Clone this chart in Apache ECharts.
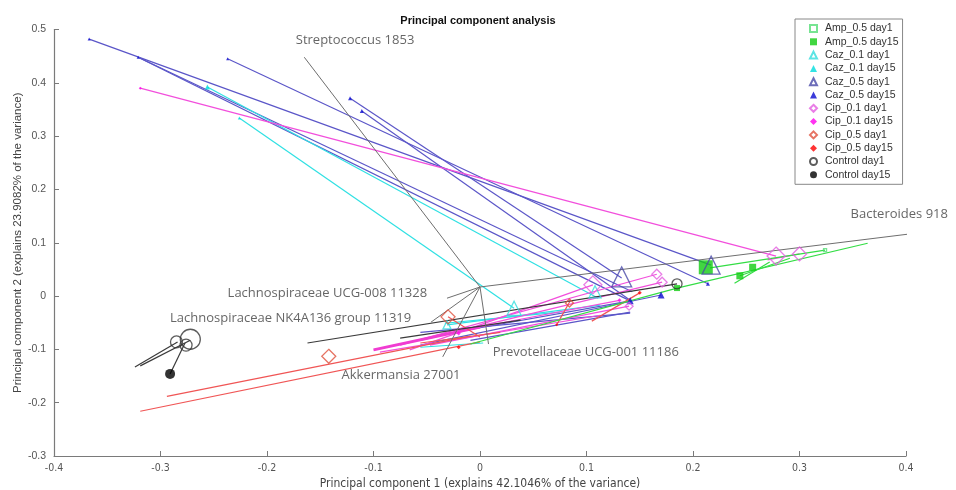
<!DOCTYPE html>
<html><head><meta charset="utf-8">
<script src="https://cdn.jsdelivr.net/npm/echarts@6/dist/echarts.min.js"></script>
<style>html,body{margin:0;padding:0;background:#fff}#c{width:956px;height:490px}</style>
</head><body><div id="c"></div>
<script>
// ---- axis ticks ----
const xTicks = [-0.4,-0.3,-0.2,-0.1,0,0.1,0.2,0.3,0.4];
const yTicks = [-0.3,-0.2,-0.1,0,0.1,0.2,0.3,0.4,0.5];

// ---- loadings (biplot vectors) ----
const hub = [0.0, 0.017];
const loadingNames = ['Streptococcus 1853','Bacteroides 918','Lachnospiraceae UCG-008 11328','Lachnospiraceae NK4A136 group 11319','Akkermansia 27001','Prevotellaceae UCG-001 11186'];
const loadingEnds = [[-0.165,0.448],[0.442,0.126],[-0.031,-0.004],[-0.046,-0.049],[-0.035,-0.114],[0.008,-0.090]];
const labelAnchors = [[-0.173,0.480],[0.348,0.154],[-0.237,0.006],[-0.291,-0.041],[-0.130,-0.148],[0.012,-0.105]];

// ---- sample segments [x1,y1,x2,y2] ----
const segAmp = [[0.185,0.015,0.364,0.099],[0.216,0.053,0.324,0.086],[0.239,0.024,0.272,0.064],[0.244,0.038,0.291,0.071],[-0.009,-0.090,0.185,0.015]];
const segCaz01 = [[-0.256,0.392,0.111,-0.004],[-0.226,0.334,0.032,-0.023],[-0.033,-0.051,0.075,-0.030],[-0.056,-0.096,0.003,-0.088],[-0.031,-0.054,0.113,-0.017]];
const segCaz05 = [[-0.367,0.482,0.217,0.058],[-0.237,0.445,0.214,0.023],[-0.321,0.448,0.143,0.008],[-0.321,0.448,0.141,-0.009],[-0.122,0.371,0.133,0.034],[-0.111,0.347,0.141,-0.008],[-0.056,-0.092,0.170,0.002],[-0.009,-0.083,0.141,-0.030],[-0.038,-0.073,0.141,-0.009],[-0.056,-0.068,0.141,-0.032]];
const segCip01 = [[-0.319,0.390,0.278,0.075],[-0.075,-0.092,0.166,0.041],[-0.056,-0.083,0.171,0.026],[-0.066,-0.101,0.106,0.021],[-0.047,-0.092,0.140,-0.019],[-0.094,-0.105,0.113,-0.036],[0.270,0.068,0.300,0.079],[0.0,-0.058,0.131,-0.008]];
const segCip01Thick = [[-0.100,-0.101,0.0,-0.058]];
const segCip05 = [[-0.319,-0.216,0.0,-0.086],[-0.294,-0.188,-0.009,-0.075],[-0.030,-0.039,0.0,-0.077],[0.072,-0.054,0.085,-0.008],[0.105,-0.047,0.150,0.006],[-0.056,-0.088,0.019,-0.068]];
const segControl = [[-0.284,-0.086,-0.324,-0.133],[-0.272,-0.083,-0.319,-0.131],[-0.277,-0.088,-0.291,-0.146],[-0.162,-0.088,0.185,0.023],[-0.075,-0.079,0.038,-0.045]];

// ---- sample points [x,y,markerSize] ----
const ptsAmpDay1 = [[0.324,0.086,3]];
const ptsAmpDay15 = [[0.212,0.054,14],[0.256,0.054,7],[0.244,0.038,7],[0.185,0.015,6]];
const ptsCaz01Day1 = [[0.032,-0.023,14],[0.108,0.008,12],[-0.031,-0.054,8]];
const ptsCaz01Day15 = [[-0.256,0.392,5],[-0.226,0.334,3]];
const ptsCaz05Day1 = [[0.133,0.036,20],[0.217,0.058,18]];
const ptsCaz05Day15 = [[0.141,-0.009,7],[0.170,0.002,7],[0.214,0.023,4],[-0.367,0.482,3],[-0.321,0.448,3],[-0.237,0.445,3],[-0.122,0.371,4],[-0.111,0.347,4]];
const ptsCip01Day1 = [[0.278,0.075,18],[0.300,0.079,14],[0.106,0.021,18],[0.166,0.041,10],[0.171,0.026,10],[0.140,-0.019,8]];
const ptsCip01Day15 = [[-0.319,0.390,3],[0.131,-0.008,4],[-0.020,-0.070,4]];
const ptsCip05Day1 = [[-0.142,-0.113,14],[-0.030,-0.039,14],[0.084,-0.013,8]];
const ptsCip05Day15 = [[-0.020,-0.096,4],[0.150,0.006,4],[0.072,-0.054,3]];
const ptsControlDay1 = [[-0.285,-0.086,12],[-0.272,-0.081,20],[-0.276,-0.092,12],[0.185,0.023,10]];
const ptsControlDay15 = [[-0.291,-0.146,10]];

const legendNames = ['Amp_0.5 day1','Amp_0.5 day15','Caz_0.1 day1','Caz_0.1 day15','Caz_0.5 day1','Caz_0.5 day15','Cip_0.1 day1','Cip_0.1 day15','Cip_0.5 day1','Cip_0.5 day15','Control day1','Control day15'];

const narrowFont = "'Liberation Sans Narrow', 'DejaVu Sans Condensed', 'Liberation Sans', sans-serif";
const plainFont = "'Liberation Sans', Arial, sans-serif";

function segSeries(segs, color, width){
  return {type:'lines', coordinateSystem:'cartesian2d', silent:true, z:2,
    lineStyle:{color:color, width:width||1.2, opacity:1},
    data: segs.map(s=>({coords:[[s[0],s[1]],[s[2],s[3]]]}))};
}
function ptSeries(name, pts, symbol, color, open){
  return {type:'scatter', name:name, symbol:symbol, z:5,
    symbolSize:(d)=>d[2],
    itemStyle: open ? {color:'rgba(255,255,255,0)', borderColor:color, borderWidth:1.3}
                    : {color:color, borderWidth:0},
    emphasis:{disabled:true},
    data: pts};
}

const loadLines = {type:'lines', coordinateSystem:'cartesian2d', silent:true, z:3,
  lineStyle:{color:'#6e6e6e', width:1, opacity:1},
  data: loadingEnds.map(e=>({coords:[hub, e]}))};
const loadLabels = {type:'scatter', silent:true, z:6, symbolSize:0,
  data: labelAnchors.map((a,i)=>({value:a, name:loadingNames[i]})),
  label:{show:true, position:[0,0], align:'left', verticalAlign:'middle',
    formatter:(p)=>p.name, fontFamily:'Open Sans', fontSize:13, color:'#404040'}};

const chart = echarts.init(document.getElementById('c'), null, {renderer:'canvas'});
chart.setOption({
  animation:false,
  backgroundColor:'#fff',
  title:{text:'Principal component analysis', left:'center', top:10,
    textStyle:{fontFamily:plainFont, fontSize:11, fontWeight:'bold', color:'#111'}},
  legend:{data:legendNames, orient:'vertical', left:795, top:19,
    itemWidth:7, itemHeight:7, itemGap:2.3,
    padding:[4,4,4,14], borderColor:'#888', borderWidth:1, borderRadius:0,
    textStyle:{fontFamily:plainFont, fontSize:10.5, color:'#333', lineHeight:11, padding:[0,0,0,3]},
    selectedMode:false},
  grid:{left:54, right:50, top:29.5, bottom:34, containLabel:false, outerBoundsMode:'none'},
  xAxis:{type:'value', min:-0.4, max:0.4, interval:0.1,
    name:'Principal component 1 (explains 42.1046% of the variance)', nameLocation:'middle', nameGap:22,
    nameMoveOverlap:false,
    nameTextStyle:{fontFamily:narrowFont, fontSize:12, color:'#444'},
    axisLine:{show:true, onZero:false, lineStyle:{color:'#7a7a7a', width:1.2}},
    axisTick:{show:true, inside:true, length:5, lineStyle:{color:'#7a7a7a'}},
    axisLabel:{fontFamily:narrowFont, fontSize:10.5, color:'#555', margin:7,
      formatter:(v)=>{const t=xTicks.find(k=>Math.abs(k-v)<1e-9); return t===undefined?'':String(t);}},
    splitLine:{show:false}},
  yAxis:{type:'value', min:-0.3, max:0.5, interval:0.1,
    name:'Principal component 2 (explains 23.9082% of the variance)', nameLocation:'middle', nameGap:30,
    nameMoveOverlap:false,
    nameTextStyle:{fontFamily:plainFont, fontSize:11.5, color:'#444'},
    axisLine:{show:true, onZero:false, lineStyle:{color:'#7a7a7a', width:1.2}},
    axisTick:{show:true, inside:true, length:5, lineStyle:{color:'#7a7a7a'}},
    axisLabel:{fontFamily:plainFont, fontSize:10.5, color:'#555', margin:8,
      formatter:(v)=>{const t=yTicks.find(k=>Math.abs(k-v)<1e-9); return t===undefined?'':String(t);}},
    splitLine:{show:false}},
  series:[
    loadLines,
    segSeries(segCaz05,'#5b56c8'),
    segSeries(segCaz01,'#2fe0e3'),
    segSeries(segCip01,'#f24fdc'),
    segSeries(segCip01Thick,'#f03cd2',3),
    segSeries(segCip05,'#f05555'),
    segSeries(segAmp,'#33dd44'),
    segSeries(segControl,'#3a3a3a'),
    ptSeries('Amp_0.5 day1', ptsAmpDay1,'rect','#55dd77',true),
    ptSeries('Amp_0.5 day15', ptsAmpDay15,'rect','#11cc11',false),
    ptSeries('Caz_0.1 day1', ptsCaz01Day1,'triangle','#33dddd',true),
    ptSeries('Caz_0.1 day15', ptsCaz01Day15,'triangle','#00dddd',false),
    ptSeries('Caz_0.5 day1', ptsCaz05Day1,'triangle','#4848a8',true),
    ptSeries('Caz_0.5 day15', ptsCaz05Day15,'triangle','#0a0ad0',false),
    ptSeries('Cip_0.1 day1', ptsCip01Day1,'diamond','#e45ee0',true),
    ptSeries('Cip_0.1 day15', ptsCip01Day15,'diamond','#ff00ee',false),
    ptSeries('Cip_0.5 day1', ptsCip05Day1,'diamond','#e0503c',true),
    ptSeries('Cip_0.5 day15', ptsCip05Day15,'diamond','#ff0000',false),
    ptSeries('Control day1', ptsControlDay1,'circle','#333333',true),
    ptSeries('Control day15', ptsControlDay15,'circle','#000000',false),
    loadLabels
  ]
});
</script></body></html>
